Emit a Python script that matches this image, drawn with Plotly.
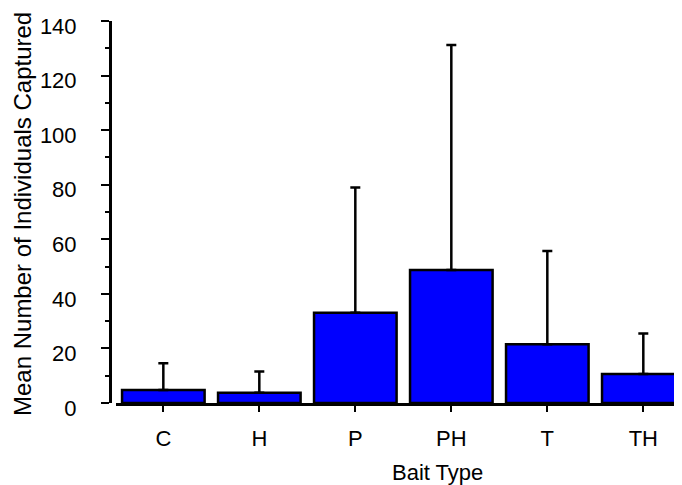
import plotly.graph_objects as go

categories = ["C", "H", "P", "PH", "T", "TH"]
means = [4.8, 3.8, 33.1, 48.7, 21.5, 10.6]
errors_plus = [9.8, 7.7, 45.9, 82.5, 34.2, 14.9]
y_ticks = [0, 20, 40, 60, 80, 100, 120, 140]

# page body has an 8px default margin; figure is sized to fill the rest
W, H = 674, 477
ML, MR, MT, MB = 102, 0, 13, 82
PW = W - ML - MR
PH_ = H - MT - MB
FONT = "Liberation Sans, Arial, sans-serif"

fig = go.Figure()
fig.add_trace(go.Bar(
    x=categories,
    y=means,
    marker=dict(color="#0000FF", line=dict(color="black", width=2.5)),
    error_y=dict(type="data", symmetric=False, array=errors_plus,
                 arrayminus=[0] * len(means), color="black",
                 thickness=2.5, width=5),
    showlegend=False,
))

fig.update_layout(
    width=W, height=H,
    margin=dict(l=ML, r=MR, t=MT, b=MB, pad=0),
    plot_bgcolor="white", paper_bgcolor="white",
    bargap=0.14,
    font=dict(family=FONT, size=22, color="black"),
    xaxis=dict(
        domain=[6 / PW, 1],
        range=[-0.493, 5.403],
        showline=True, linecolor="black", linewidth=3,
        ticks="outside", ticklen=6, tickwidth=2, tickcolor="black",
        ticklabelstandoff=8,
        showgrid=False, zeroline=False,
        tickfont=dict(size=22),
        automargin=False,
    ),
    yaxis=dict(
        anchor="free", position=0,
        range=[0, 140],
        tickvals=y_ticks,
        showline=True, linecolor="black", linewidth=3,
        ticks="outside", ticklen=8, tickwidth=2, tickcolor="black",
        minor=dict(dtick=10, ticks="outside", ticklen=4, tickwidth=2, tickcolor="black"),
        ticklabelstandoff=20,
        ticklabelshift=5,
        ticklabeloverflow="allow",
        showgrid=False, zeroline=False,
        tickfont=dict(size=22),
        automargin=False,
    ),
    annotations=[
        dict(text="Bait Type", xref="paper", yref="paper",
             x=(429 - ML) / PW, y=(395 - 449.5) / PH_,
             xanchor="center", yanchor="top", showarrow=False,
             font=dict(size=22)),
        dict(text="Mean Number of Individuals Captured", xref="paper", yref="paper",
             x=(15 - ML) / PW, y=(395 - 206) / PH_,
             xanchor="center", yanchor="middle", textangle=-90, showarrow=False,
             font=dict(size=24)),
    ],
)

fig.write_html("out.html")
